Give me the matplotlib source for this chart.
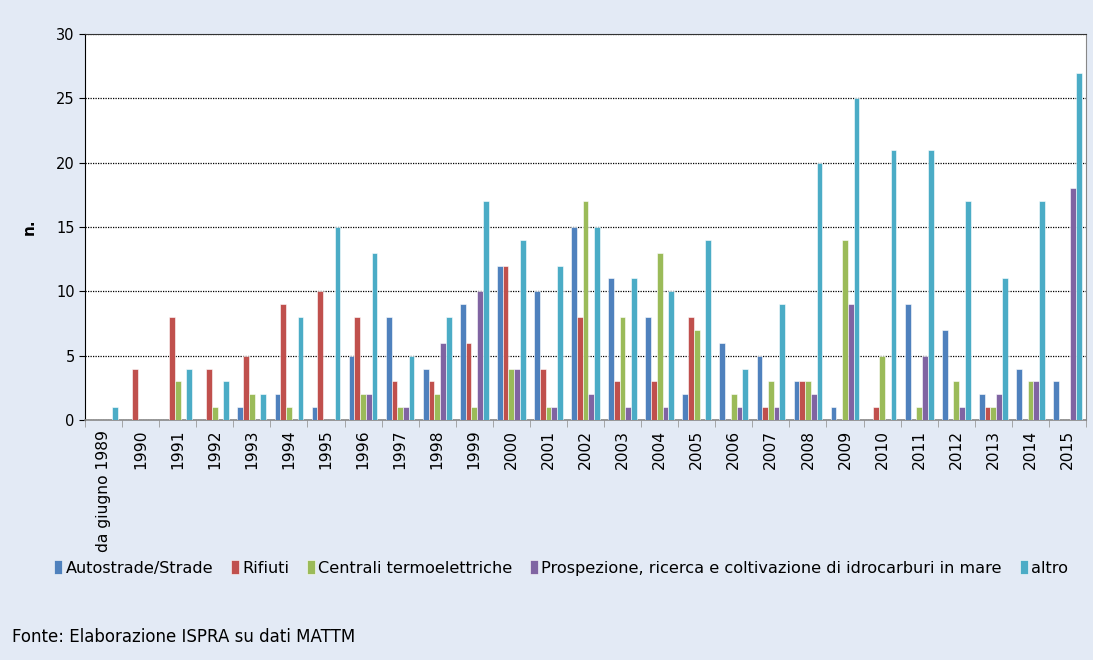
import numpy as np
import matplotlib.pyplot as plt
from matplotlib.ticker import FixedLocator

years = ['da giugno 1989'] + [str(y) for y in range(1990, 2016)]

autostrade = [0, 0, 0, 0, 1, 2, 1, 5, 8, 4, 9, 12, 10, 15, 11, 8, 2, 6, 5, 3, 1, 0, 9, 7, 2, 4, 3]
rifiuti = [0, 4, 8, 4, 5, 9, 10, 8, 3, 3, 6, 12, 4, 8, 3, 3, 8, 0, 1, 3, 0, 1, 0, 0, 1, 0, 0]
centrali = [0, 0, 3, 1, 2, 1, 0, 2, 1, 2, 1, 4, 1, 17, 8, 13, 7, 2, 3, 3, 14, 5, 1, 3, 1, 3, 0]
prospezione = [0, 0, 0, 0, 0, 0, 0, 2, 1, 6, 10, 4, 1, 2, 1, 1, 0, 1, 1, 2, 9, 0, 5, 1, 2, 3, 18]
altro = [1, 0, 4, 3, 2, 8, 15, 13, 5, 8, 17, 14, 12, 15, 11, 10, 14, 4, 9, 20, 25, 21, 21, 17, 11, 17, 27]

series = [
    ('Autostrade/Strade', autostrade, '#4F81BD'),
    ('Rifiuti', rifiuti, '#C0504D'),
    ('Centrali termoelettriche', centrali, '#9BBB59'),
    ('Prospezione, ricerca e coltivazione di idrocarburi in mare', prospezione, '#8064A2'),
    ('altro', altro, '#4BACC6'),
]

bg = '#E3EAF5'
fig = plt.figure(figsize=(10.93, 6.60), dpi=100, facecolor=bg)
ax = fig.add_axes([85/1093, 1-420/660, 1001/1093, 386/660])
ax.set_facecolor('white')

x = np.arange(len(years))
w = 0.155
for i, (name, vals, col) in enumerate(series):
    pos = x + (i - 2) * w
    ax.bar(pos, vals, width=w, color=col, edgecolor='white', linewidth=0.4,
           label=name, zorder=3)

ax.set_xlim(-0.5, len(years) - 0.5)
ax.set_ylim(0, 30)
ax.set_yticks(range(0, 31, 5))
ax.yaxis.grid(True, linestyle=(0, (1, 1)), color='black', linewidth=0.9, zorder=0)
ax.tick_params(axis='y', labelsize=10.5, length=4, direction='out', color='black')
ax.set_ylabel('n.', fontsize=11, fontweight='bold', labelpad=14)

ax.set_xticks(x)
ax.set_xticklabels(years, rotation=90, fontsize=11.2)
ax.tick_params(axis='x', which='major', length=0, pad=7)
ax.xaxis.set_minor_locator(FixedLocator(np.arange(-0.5, len(years), 1)))
ax.tick_params(axis='x', which='minor', length=5, color='#999999')

ax.spines['left'].set_color('black')
ax.spines['top'].set_color('#333333')
ax.spines['right'].set_color('#888888')
ax.spines['bottom'].set_color('#888888')
ax.spines['bottom'].set_linewidth(1.2)

leg = fig.legend(loc='center', bbox_to_anchor=(561/1093, 1-568/660), ncol=5, frameon=False,
                 fontsize=11.6, handlelength=0.5, handleheight=0.9, handletextpad=0.2,
                 columnspacing=1.1)

fig.text(12/1093, 1-637/660, 'Fonte: Elaborazione ISPRA su dati MATTM', fontsize=12,
         va='center', ha='left')

fig.savefig('out.png', dpi=100, facecolor=bg)
